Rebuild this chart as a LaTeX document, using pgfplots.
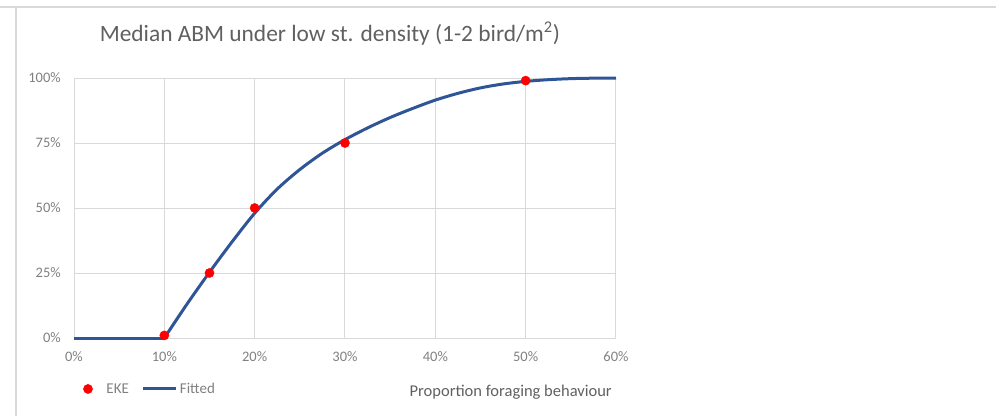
\documentclass[border=0pt]{standalone}
\usepackage{fontspec}
\setmainfont{Carlito}
\usepackage{pgfplots}
\pgfplotsset{compat=1.18}
\definecolor{gridc}{HTML}{D9D9D9}
\definecolor{txt}{HTML}{606060}
\definecolor{tickc}{HTML}{808080}
\definecolor{fitblue}{HTML}{2F5597}
\definecolor{ekered}{HTML}{FF0000}
\begin{document}
\begin{tikzpicture}[x=1pt,y=1pt]
\path[use as bounding box] (0,0) rectangle (996,416);
\draw[gridc, line width=2pt] (0,409) -- (996,409);
\draw[gridc, line width=1.5pt] (16,409) -- (16,0);
\begin{axis}[
  at={(74pt,78pt)}, anchor=south west,
  scale only axis, width=542pt, height=260pt,
  xmin=0, xmax=60, ymin=0, ymax=100,
  xtick={0,10,20,30,40,50,60},
  ytick={0,25,50,75,100},
  grid=major,
  major grid style={gridc, line width=1pt},
  axis line style={gridc, line width=1pt},
  tick style={draw=none},
  /pgf/number format/assume math mode=true,
  xticklabel={\pgfmathprintnumber{\tick}\%},
  yticklabel={\pgfmathprintnumber{\tick}\%},
  tick label style={font=\fontsize{14.5}{14.5}\selectfont, text=tickc, inner sep=0pt},
  xticklabel style={anchor=center, yshift=-19pt},
  yticklabel style={anchor=east, xshift=-13pt},
  title={Median ABM under low st. density (1-2 bird/m\textsuperscript{2})},
  title style={at={(0.472,1.148)}, anchor=center, font=\fontsize{23.4}{23.4}\selectfont, text=txt},
  xlabel={Proportion foraging behaviour},
  xlabel style={at={(0.9926,-0.21)}, anchor=east, font=\fontsize{16.5}{16.5}\selectfont, text=txt, inner sep=0pt},
  legend image code/.code={\path[draw=none, fill=none] (0pt,-3pt) rectangle (33pt,3pt);
    \draw[mark repeat=2,mark phase=2,#1] plot coordinates {(0pt,0pt) (16.5pt,0pt) (33pt,0pt)};},
  legend columns=2,
  legend style={at={(-0.005,-0.196)}, anchor=west, draw=none, fill=none, inner sep=0pt,
    font=\fontsize{15}{15}\selectfont, text=tickc,
    /tikz/every even column/.append style={column sep=11pt}},
  clip=false,
]
\addplot[fitblue, line width=3pt, forget plot] coordinates {(0,0) (10,0)};
\addplot[fitblue, line width=3pt, smooth, tension=0.5, forget plot] coordinates {
(10,0) (12.5,13) (15,25.3) (17.5,37) (20,48) (22.5,57.3) (25,64.8) (27.5,71.1)
(30,76.3) (32.5,80.8) (35,84.8) (37.5,88.3) (40,91.5) (42.5,94.1) (45,96.2)
(47.5,97.7) (50,98.7) (52.5,99.35) (55,99.75) (57.5,99.93) (60,100)};
\addplot[only marks, mark=*, mark size=4.6pt, ekered, mark options={draw=ekered, fill=ekered}] coordinates {
(10,1) (15,25) (20,50) (30,75) (50,99)};
\addlegendentry{EKE}
\addlegendimage{fitblue, line width=3pt}
\addlegendentry{Fitted}
\end{axis}
\end{tikzpicture}
\end{document}
